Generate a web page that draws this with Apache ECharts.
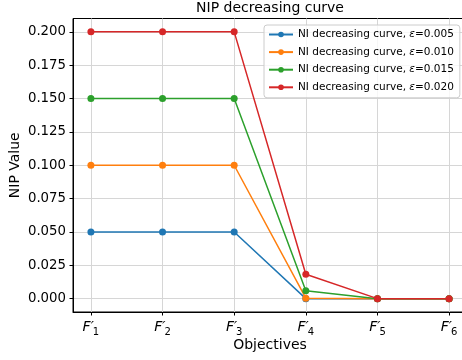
<!DOCTYPE html>
<html><head><meta charset="utf-8">
<script src="https://cdn.jsdelivr.net/npm/echarts@6/dist/echarts.min.js"></script>
<style>html,body{margin:0;padding:0;background:#fff}#c{width:462px;height:360px}</style>
</head><body><div id="c"></div>
<script>
const categories = ['1', '2', '3', '4', '5', '6'];
const seriesNames = ['0.005', '0.010', '0.015', '0.020'];
const eps005 = [0.05, 0.05, 0.05, 0.0, 0.0, 0.0];
const eps010 = [0.10, 0.10, 0.10, 0.0004, 0.0, 0.0];
const eps015 = [0.15, 0.15, 0.15, 0.006, 0.0, 0.0];
const eps020 = [0.20, 0.20, 0.20, 0.0183, 0.0, 0.0];
const yTicks = [0, 0.025, 0.05, 0.075, 0.1, 0.125, 0.15, 0.175, 0.2];
const xTicks = [0, 1, 2, 3, 4, 5];
const colors = ['#1f77b4', '#ff7f0e', '#2ca02c', '#d62728'];
const allData = [eps005, eps010, eps015, eps020];

const FONT = 'DejaVu Sans';
const chart = echarts.init(document.getElementById('c'), null, {renderer: 'canvas'});
const series = allData.map((d, i) => ({
  name: 'NI decreasing curve, ε=' + seriesNames[i],
  type: 'line',
  data: d.map((v, j) => [j, v]),
  color: colors[i],
  symbol: 'circle',
  symbolSize: 7,
  lineStyle: {width: 1.5, color: colors[i]},
  itemStyle: {color: colors[i]},
  emphasis: {disabled: true},
  animation: false,
  z: 3 + i
}));

chart.setOption({
  animation: false,
  backgroundColor: '#fff',
  title: {
    text: 'NIP decreasing curve',
    left: 270, top: 1, textAlign: 'center', padding: 0,
    textStyle: {fontFamily: FONT, fontSize: 14, fontWeight: 'normal', color: '#000'}
  },
  legend: {
    orient: 'vertical', left: 264, top: 25,
    padding: [4, 6, 5, 4], itemGap: 6.6, itemWidth: 24, itemHeight: 7,
    backgroundColor: 'rgba(255,255,255,0.8)', borderColor: '#cccccc', borderWidth: 1, borderRadius: 3,
    formatter: function (name) {
      const parts = name.split('ε');
      return '{a|' + parts[0] + '}{e|ε}{a|' + parts[1] + '}';
    },
    textStyle: {
      fontFamily: FONT, fontSize: 10.5, color: '#000',
      rich: {a: {fontFamily: FONT, fontSize: 10.5, color: '#000'},
             e: {fontFamily: FONT, fontSize: 10.5, fontStyle: 'italic', color: '#000'}}
    }
  },
  grid: {left: 73, right: -5, top: 18.5, bottom: 48, outerBoundsMode: 'none', containLabel: false,
         show: true, borderColor: '#000', borderWidth: 1, backgroundColor: 'transparent'},
  xAxis: {
    type: 'value', min: -0.25, max: 5.25,
    name: 'Objectives', nameLocation: 'middle', nameGap: 26, nameMoveOverlap: false,
    nameTextStyle: {fontFamily: FONT, fontSize: 14, color: '#000'},
    axisLine: {show: true, onZero: false, lineStyle: {color: '#000', width: 1}},
    axisTick: {show: true, length: 3.5, customValues: xTicks, lineStyle: {color: '#000'}},
    axisLabel: {
      customValues: xTicks, margin: 5,
      formatter: function (v) {
        const idx = Math.round(v);
        return '{f|F′}{s|' + categories[idx] + '}';
      },
      rich: {
        f: {fontFamily: FONT, fontStyle: 'italic', fontSize: 14, color: '#000', lineHeight: 20, verticalAlign: 'middle'},
        s: {fontFamily: FONT, fontSize: 10, color: '#000', verticalAlign: 'bottom', lineHeight: 20, padding: [0, 0, 0, -1]}
      }
    },
    splitLine: {show: true, lineStyle: {color: '#d6d6d6', width: 1}}
  },
  yAxis: {
    type: 'value', min: -0.01, max: 0.21,
    name: 'NIP Value', nameLocation: 'middle', nameGap: 51, nameMoveOverlap: false,
    nameTextStyle: {fontFamily: FONT, fontSize: 14, color: '#000'},
    axisLine: {show: true, onZero: false, lineStyle: {color: '#000', width: 1}},
    axisTick: {show: true, length: 3.5, customValues: yTicks, lineStyle: {color: '#000'}},
    axisLabel: {
      customValues: yTicks, margin: 7,
      fontFamily: FONT, fontSize: 13.3, color: '#000',
      formatter: function (v) { return v.toFixed(3); }
    },
    splitLine: {show: true, lineStyle: {color: '#d6d6d6', width: 1}}
  },
  series: series
});
</script>
</body></html>
